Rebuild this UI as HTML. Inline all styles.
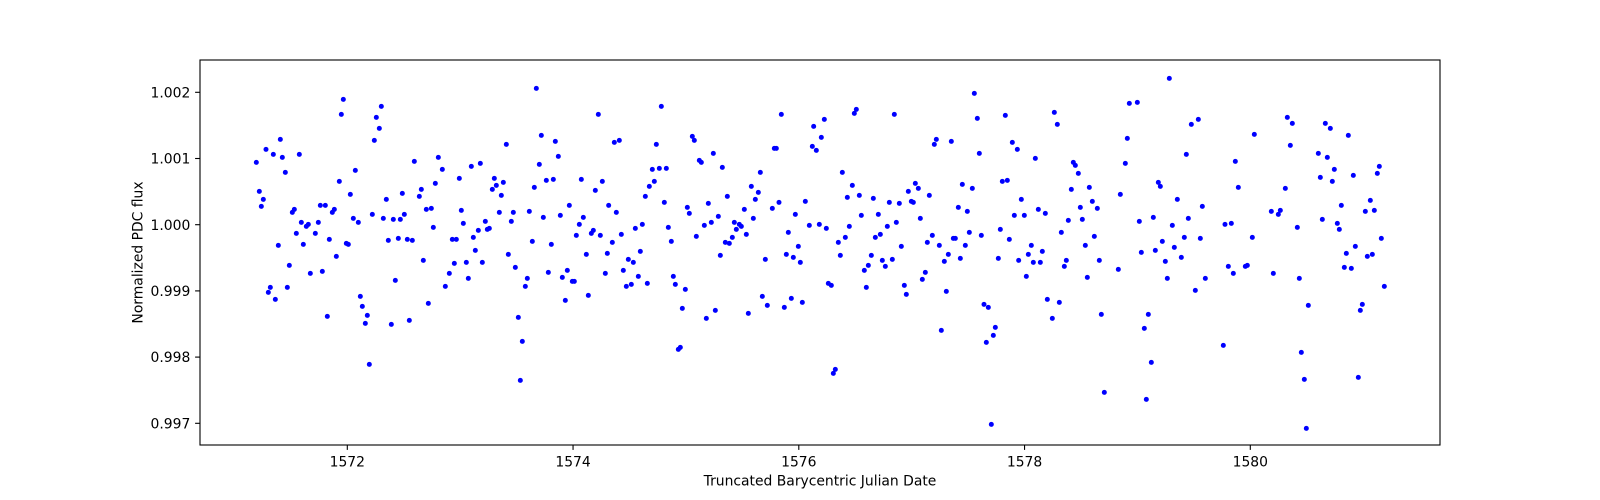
<!DOCTYPE html>
<html>
<head>
<meta charset="utf-8">
<style>
html,body{margin:0;padding:0;background:#fff;}
svg{display:block;}
text{font-family:"DejaVu Sans","Liberation Sans",sans-serif;font-size:13.9px;fill:#000;}
</style>
</head>
<body>
<svg width="1600" height="500" viewBox="0 0 1600 500" xmlns="http://www.w3.org/2000/svg">
<rect x="0" y="0" width="1600" height="500" fill="#fff"/>

<g fill="#0000ff">
<g transform="translate(195,55) scale(0.333333)">
<circle cx="445" cy="133" r="7.5"/><circle cx="439" cy="178" r="7.5"/><circle cx="559" cy="154" r="7.5"/><circle cx="544" cy="187" r="7.5"/><circle cx="553" cy="220" r="7.5"/><circle cx="538" cy="256" r="7.5"/><circle cx="256" cy="253" r="7.5"/><circle cx="213" cy="283" r="7.5"/><circle cx="235" cy="298" r="7.5"/><circle cx="262" cy="307" r="7.5"/><circle cx="313" cy="298" r="7.5"/><circle cx="184" cy="322" r="7.5"/><circle cx="271" cy="352" r="7.5"/><circle cx="481" cy="346" r="7.5"/><circle cx="433" cy="379" r="7.5"/><circle cx="193" cy="409" r="7.5"/><circle cx="205" cy="433" r="7.5"/><circle cx="199" cy="454" r="7.5"/><circle cx="466" cy="418" r="7.5"/><circle cx="574" cy="433" r="7.5"/><circle cx="622" cy="415" r="7.5"/><circle cx="292" cy="472" r="7.5"/><circle cx="298" cy="463" r="7.5"/><circle cx="376" cy="451" r="7.5"/><circle cx="391" cy="451" r="7.5"/><circle cx="412" cy="472" r="7.5"/><circle cx="418" cy="463" r="7.5"/><circle cx="475" cy="490" r="7.5"/><circle cx="490" cy="502" r="7.5"/><circle cx="532" cy="478" r="7.5"/><circle cx="565" cy="490" r="7.5"/><circle cx="595" cy="493" r="7.5"/><circle cx="616" cy="493" r="7.5"/><circle cx="628" cy="478" r="7.5"/><circle cx="319" cy="502" r="7.5"/><circle cx="334" cy="514" r="7.5"/><circle cx="340" cy="508" r="7.5"/><circle cx="370" cy="502" r="7.5"/><circle cx="304" cy="535" r="7.5"/><circle cx="361" cy="535" r="7.5"/><circle cx="403" cy="553" r="7.5"/><circle cx="250" cy="571" r="7.5"/><circle cx="325" cy="568" r="7.5"/><circle cx="454" cy="565" r="7.5"/><circle cx="460" cy="568" r="7.5"/><circle cx="580" cy="556" r="7.5"/><circle cx="610" cy="550" r="7.5"/><circle cx="424" cy="604" r="7.5"/><circle cx="283" cy="631" r="7.5"/><circle cx="346" cy="655" r="7.5"/><circle cx="382" cy="649" r="7.5"/><circle cx="601" cy="676" r="7.5"/><circle cx="226" cy="697" r="7.5"/><circle cx="220" cy="712" r="7.5"/><circle cx="277" cy="697" r="7.5"/><circle cx="241" cy="733" r="7.5"/><circle cx="496" cy="724" r="7.5"/><circle cx="502" cy="754" r="7.5"/><circle cx="517" cy="781" r="7.5"/><circle cx="511" cy="805" r="7.5"/><circle cx="589" cy="808" r="7.5"/><circle cx="397" cy="784" r="7.5"/><circle cx="523" cy="928" r="7.5"/>
</g>
<g transform="translate(400,55) scale(0.333333)">
<circle cx="409" cy="100" r="7.5"/><circle cx="595" cy="178" r="7.5"/><circle cx="424" cy="241" r="7.5"/><circle cx="466" cy="259" r="7.5"/><circle cx="319" cy="268" r="7.5"/><circle cx="475" cy="304" r="7.5"/><circle cx="43" cy="319" r="7.5"/><circle cx="115" cy="307" r="7.5"/><circle cx="127" cy="343" r="7.5"/><circle cx="214" cy="334" r="7.5"/><circle cx="241" cy="325" r="7.5"/><circle cx="418" cy="328" r="7.5"/><circle cx="178" cy="370" r="7.5"/><circle cx="283" cy="370" r="7.5"/><circle cx="289" cy="391" r="7.5"/><circle cx="310" cy="382" r="7.5"/><circle cx="277" cy="403" r="7.5"/><circle cx="304" cy="421" r="7.5"/><circle cx="106" cy="385" r="7.5"/><circle cx="64" cy="403" r="7.5"/><circle cx="58" cy="424" r="7.5"/><circle cx="403" cy="397" r="7.5"/><circle cx="439" cy="376" r="7.5"/><circle cx="460" cy="373" r="7.5"/><circle cx="544" cy="373" r="7.5"/><circle cx="607" cy="379" r="7.5"/><circle cx="586" cy="406" r="7.5"/><circle cx="79" cy="463" r="7.5"/><circle cx="94" cy="460" r="7.5"/><circle cx="184" cy="466" r="7.5"/><circle cx="190" cy="505" r="7.5"/><circle cx="100" cy="517" r="7.5"/><circle cx="298" cy="472" r="7.5"/><circle cx="340" cy="472" r="7.5"/><circle cx="334" cy="499" r="7.5"/><circle cx="388" cy="469" r="7.5"/><circle cx="430" cy="487" r="7.5"/><circle cx="481" cy="481" r="7.5"/><circle cx="508" cy="451" r="7.5"/><circle cx="550" cy="487" r="7.5"/><circle cx="538" cy="508" r="7.5"/><circle cx="626" cy="451" r="7.5"/><circle cx="256" cy="499" r="7.5"/><circle cx="235" cy="526" r="7.5"/><circle cx="262" cy="523" r="7.5"/><circle cx="268" cy="520" r="7.5"/><circle cx="220" cy="547" r="7.5"/><circle cx="157" cy="553" r="7.5"/><circle cx="169" cy="553" r="7.5"/><circle cx="22" cy="553" r="7.5"/><circle cx="37" cy="556" r="7.5"/><circle cx="397" cy="559" r="7.5"/><circle cx="454" cy="568" r="7.5"/><circle cx="529" cy="541" r="7.5"/><circle cx="574" cy="535" r="7.5"/><circle cx="580" cy="526" r="7.5"/><circle cx="601" cy="541" r="7.5"/><circle cx="226" cy="586" r="7.5"/><circle cx="325" cy="598" r="7.5"/><circle cx="559" cy="598" r="7.5"/><circle cx="622" cy="595" r="7.5"/><circle cx="70" cy="616" r="7.5"/><circle cx="163" cy="625" r="7.5"/><circle cx="199" cy="622" r="7.5"/><circle cx="247" cy="622" r="7.5"/><circle cx="148" cy="655" r="7.5"/><circle cx="136" cy="694" r="7.5"/><circle cx="205" cy="670" r="7.5"/><circle cx="346" cy="637" r="7.5"/><circle cx="382" cy="670" r="7.5"/><circle cx="376" cy="694" r="7.5"/><circle cx="445" cy="652" r="7.5"/><circle cx="502" cy="646" r="7.5"/><circle cx="487" cy="667" r="7.5"/><circle cx="517" cy="679" r="7.5"/><circle cx="523" cy="679" r="7.5"/><circle cx="616" cy="655" r="7.5"/><circle cx="565" cy="721" r="7.5"/><circle cx="496" cy="736" r="7.5"/><circle cx="85" cy="745" r="7.5"/><circle cx="28" cy="796" r="7.5"/><circle cx="355" cy="787" r="7.5"/><circle cx="367" cy="859" r="7.5"/><circle cx="361" cy="976" r="7.5"/>
</g>
<g transform="translate(605,55) scale(0.333333)">
<circle cx="169" cy="154" r="7.5"/><circle cx="529" cy="178" r="7.5"/><circle cx="626" cy="214" r="7.5"/><circle cx="28" cy="262" r="7.5"/><circle cx="43" cy="256" r="7.5"/><circle cx="154" cy="268" r="7.5"/><circle cx="262" cy="244" r="7.5"/><circle cx="268" cy="256" r="7.5"/><circle cx="508" cy="280" r="7.5"/><circle cx="514" cy="280" r="7.5"/><circle cx="622" cy="274" r="7.5"/><circle cx="325" cy="295" r="7.5"/><circle cx="283" cy="316" r="7.5"/><circle cx="289" cy="322" r="7.5"/><circle cx="142" cy="343" r="7.5"/><circle cx="163" cy="340" r="7.5"/><circle cx="184" cy="340" r="7.5"/><circle cx="352" cy="337" r="7.5"/><circle cx="466" cy="352" r="7.5"/><circle cx="148" cy="379" r="7.5"/><circle cx="133" cy="394" r="7.5"/><circle cx="121" cy="424" r="7.5"/><circle cx="439" cy="394" r="7.5"/><circle cx="460" cy="412" r="7.5"/><circle cx="451" cy="433" r="7.5"/><circle cx="367" cy="424" r="7.5"/><circle cx="178" cy="442" r="7.5"/><circle cx="310" cy="445" r="7.5"/><circle cx="247" cy="457" r="7.5"/><circle cx="253" cy="475" r="7.5"/><circle cx="34" cy="472" r="7.5"/><circle cx="522" cy="442" r="7.5"/><circle cx="601" cy="439" r="7.5"/><circle cx="502" cy="460" r="7.5"/><circle cx="418" cy="463" r="7.5"/><circle cx="445" cy="490" r="7.5"/><circle cx="571" cy="478" r="7.5"/><circle cx="340" cy="484" r="7.5"/><circle cx="319" cy="502" r="7.5"/><circle cx="298" cy="511" r="7.5"/><circle cx="388" cy="502" r="7.5"/><circle cx="403" cy="508" r="7.5"/><circle cx="409" cy="514" r="7.5"/><circle cx="394" cy="523" r="7.5"/><circle cx="613" cy="511" r="7.5"/><circle cx="112" cy="508" r="7.5"/><circle cx="91" cy="520" r="7.5"/><circle cx="190" cy="517" r="7.5"/><circle cx="49" cy="538" r="7.5"/><circle cx="274" cy="544" r="7.5"/><circle cx="424" cy="538" r="7.5"/><circle cx="382" cy="547" r="7.5"/><circle cx="550" cy="532" r="7.5"/><circle cx="199" cy="559" r="7.5"/><circle cx="22" cy="562" r="7.5"/><circle cx="361" cy="562" r="7.5"/><circle cx="373" cy="565" r="7.5"/><circle cx="580" cy="574" r="7.5"/><circle cx="106" cy="589" r="7.5"/><circle cx="544" cy="598" r="7.5"/><circle cx="565" cy="607" r="7.5"/><circle cx="586" cy="622" r="7.5"/><circle cx="346" cy="601" r="7.5"/><circle cx="481" cy="613" r="7.5"/><circle cx="70" cy="613" r="7.5"/><circle cx="85" cy="622" r="7.5"/><circle cx="55" cy="646" r="7.5"/><circle cx="100" cy="664" r="7.5"/><circle cx="205" cy="664" r="7.5"/><circle cx="64" cy="694" r="7.5"/><circle cx="79" cy="688" r="7.5"/><circle cx="127" cy="685" r="7.5"/><circle cx="211" cy="688" r="7.5"/><circle cx="241" cy="703" r="7.5"/><circle cx="472" cy="724" r="7.5"/><circle cx="487" cy="751" r="7.5"/><circle cx="538" cy="757" r="7.5"/><circle cx="559" cy="730" r="7.5"/><circle cx="592" cy="742" r="7.5"/><circle cx="232" cy="760" r="7.5"/><circle cx="331" cy="766" r="7.5"/><circle cx="304" cy="790" r="7.5"/><circle cx="430" cy="775" r="7.5"/><circle cx="220" cy="883" r="7.5"/><circle cx="226" cy="877" r="7.5"/>
</g>
<g transform="translate(810,55) scale(0.333333)">
<circle cx="493" cy="115" r="7.5"/><circle cx="502" cy="190" r="7.5"/><circle cx="586" cy="181" r="7.5"/><circle cx="139" cy="163" r="7.5"/><circle cx="133" cy="175" r="7.5"/><circle cx="253" cy="178" r="7.5"/><circle cx="43" cy="193" r="7.5"/><circle cx="34" cy="247" r="7.5"/><circle cx="19" cy="286" r="7.5"/><circle cx="373" cy="268" r="7.5"/><circle cx="379" cy="253" r="7.5"/><circle cx="424" cy="259" r="7.5"/><circle cx="508" cy="295" r="7.5"/><circle cx="607" cy="262" r="7.5"/><circle cx="622" cy="283" r="7.5"/><circle cx="97" cy="352" r="7.5"/><circle cx="127" cy="391" r="7.5"/><circle cx="112" cy="427" r="7.5"/><circle cx="148" cy="421" r="7.5"/><circle cx="190" cy="430" r="7.5"/><circle cx="238" cy="442" r="7.5"/><circle cx="268" cy="445" r="7.5"/><circle cx="295" cy="409" r="7.5"/><circle cx="316" cy="385" r="7.5"/><circle cx="325" cy="400" r="7.5"/><circle cx="304" cy="439" r="7.5"/><circle cx="310" cy="442" r="7.5"/><circle cx="358" cy="421" r="7.5"/><circle cx="457" cy="388" r="7.5"/><circle cx="487" cy="400" r="7.5"/><circle cx="577" cy="379" r="7.5"/><circle cx="592" cy="376" r="7.5"/><circle cx="445" cy="457" r="7.5"/><circle cx="472" cy="469" r="7.5"/><circle cx="613" cy="481" r="7.5"/><circle cx="154" cy="481" r="7.5"/><circle cx="205" cy="478" r="7.5"/><circle cx="331" cy="490" r="7.5"/><circle cx="28" cy="508" r="7.5"/><circle cx="49" cy="520" r="7.5"/><circle cx="118" cy="514" r="7.5"/><circle cx="232" cy="514" r="7.5"/><circle cx="259" cy="502" r="7.5"/><circle cx="571" cy="523" r="7.5"/><circle cx="106" cy="547" r="7.5"/><circle cx="85" cy="562" r="7.5"/><circle cx="196" cy="547" r="7.5"/><circle cx="211" cy="538" r="7.5"/><circle cx="274" cy="574" r="7.5"/><circle cx="352" cy="562" r="7.5"/><circle cx="367" cy="541" r="7.5"/><circle cx="388" cy="571" r="7.5"/><circle cx="430" cy="550" r="7.5"/><circle cx="436" cy="550" r="7.5"/><circle cx="478" cy="532" r="7.5"/><circle cx="514" cy="541" r="7.5"/><circle cx="598" cy="553" r="7.5"/><circle cx="466" cy="571" r="7.5"/><circle cx="91" cy="601" r="7.5"/><circle cx="184" cy="601" r="7.5"/><circle cx="217" cy="616" r="7.5"/><circle cx="226" cy="634" r="7.5"/><circle cx="247" cy="613" r="7.5"/><circle cx="175" cy="631" r="7.5"/><circle cx="163" cy="646" r="7.5"/><circle cx="415" cy="598" r="7.5"/><circle cx="403" cy="619" r="7.5"/><circle cx="451" cy="610" r="7.5"/><circle cx="565" cy="610" r="7.5"/><circle cx="626" cy="616" r="7.5"/><circle cx="346" cy="652" r="7.5"/><circle cx="337" cy="673" r="7.5"/><circle cx="55" cy="685" r="7.5"/><circle cx="64" cy="691" r="7.5"/><circle cx="169" cy="697" r="7.5"/><circle cx="283" cy="691" r="7.5"/><circle cx="289" cy="718" r="7.5"/><circle cx="409" cy="709" r="7.5"/><circle cx="522" cy="748" r="7.5"/><circle cx="535" cy="757" r="7.5"/><circle cx="556" cy="817" r="7.5"/><circle cx="550" cy="841" r="7.5"/><circle cx="529" cy="862" r="7.5"/><circle cx="394" cy="826" r="7.5"/><circle cx="76" cy="943" r="7.5"/><circle cx="70" cy="955" r="7.5"/><circle cx="544" cy="1108" r="7.5"/>
</g>
<g transform="translate(1015,55) scale(0.333333)">
<circle cx="463" cy="70" r="7.5"/><circle cx="343" cy="145" r="7.5"/><circle cx="367" cy="142" r="7.5"/><circle cx="118" cy="172" r="7.5"/><circle cx="127" cy="208" r="7.5"/><circle cx="529" cy="208" r="7.5"/><circle cx="550" cy="193" r="7.5"/><circle cx="337" cy="250" r="7.5"/><circle cx="61" cy="310" r="7.5"/><circle cx="514" cy="298" r="7.5"/><circle cx="175" cy="322" r="7.5"/><circle cx="181" cy="331" r="7.5"/><circle cx="331" cy="325" r="7.5"/><circle cx="190" cy="355" r="7.5"/><circle cx="430" cy="382" r="7.5"/><circle cx="436" cy="394" r="7.5"/><circle cx="169" cy="403" r="7.5"/><circle cx="223" cy="397" r="7.5"/><circle cx="316" cy="418" r="7.5"/><circle cx="19" cy="433" r="7.5"/><circle cx="487" cy="433" r="7.5"/><circle cx="232" cy="439" r="7.5"/><circle cx="196" cy="457" r="7.5"/><circle cx="247" cy="460" r="7.5"/><circle cx="70" cy="463" r="7.5"/><circle cx="91" cy="475" r="7.5"/><circle cx="28" cy="481" r="7.5"/><circle cx="562" cy="454" r="7.5"/><circle cx="160" cy="496" r="7.5"/><circle cx="202" cy="493" r="7.5"/><circle cx="373" cy="499" r="7.5"/><circle cx="415" cy="487" r="7.5"/><circle cx="472" cy="511" r="7.5"/><circle cx="520" cy="490" r="7.5"/><circle cx="630" cy="508" r="7.5"/><circle cx="139" cy="532" r="7.5"/><circle cx="238" cy="544" r="7.5"/><circle cx="442" cy="559" r="7.5"/><circle cx="508" cy="547" r="7.5"/><circle cx="556" cy="550" r="7.5"/><circle cx="49" cy="571" r="7.5"/><circle cx="211" cy="571" r="7.5"/><circle cx="478" cy="577" r="7.5"/><circle cx="40" cy="598" r="7.5"/><circle cx="82" cy="589" r="7.5"/><circle cx="421" cy="586" r="7.5"/><circle cx="379" cy="592" r="7.5"/><circle cx="55" cy="622" r="7.5"/><circle cx="76" cy="622" r="7.5"/><circle cx="154" cy="616" r="7.5"/><circle cx="148" cy="634" r="7.5"/><circle cx="253" cy="616" r="7.5"/><circle cx="451" cy="619" r="7.5"/><circle cx="499" cy="607" r="7.5"/><circle cx="34" cy="664" r="7.5"/><circle cx="217" cy="667" r="7.5"/><circle cx="310" cy="643" r="7.5"/><circle cx="457" cy="670" r="7.5"/><circle cx="571" cy="670" r="7.5"/><circle cx="541" cy="706" r="7.5"/><circle cx="97" cy="733" r="7.5"/><circle cx="133" cy="742" r="7.5"/><circle cx="112" cy="790" r="7.5"/><circle cx="259" cy="778" r="7.5"/><circle cx="400" cy="778" r="7.5"/><circle cx="388" cy="820" r="7.5"/><circle cx="625" cy="871" r="7.5"/><circle cx="409" cy="922" r="7.5"/><circle cx="268" cy="1012" r="7.5"/><circle cx="394" cy="1033" r="7.5"/>
</g>
<g transform="translate(1220,55) scale(0.333333)">
<circle cx="202" cy="187" r="7.5"/><circle cx="217" cy="205" r="7.5"/><circle cx="316" cy="205" r="7.5"/><circle cx="331" cy="220" r="7.5"/><circle cx="103" cy="238" r="7.5"/><circle cx="385" cy="241" r="7.5"/><circle cx="211" cy="271" r="7.5"/><circle cx="295" cy="295" r="7.5"/><circle cx="322" cy="307" r="7.5"/><circle cx="46" cy="319" r="7.5"/><circle cx="478" cy="334" r="7.5"/><circle cx="472" cy="355" r="7.5"/><circle cx="343" cy="343" r="7.5"/><circle cx="301" cy="367" r="7.5"/><circle cx="337" cy="379" r="7.5"/><circle cx="400" cy="361" r="7.5"/><circle cx="55" cy="397" r="7.5"/><circle cx="196" cy="400" r="7.5"/><circle cx="451" cy="436" r="7.5"/><circle cx="364" cy="451" r="7.5"/><circle cx="436" cy="469" r="7.5"/><circle cx="463" cy="466" r="7.5"/><circle cx="154" cy="469" r="7.5"/><circle cx="181" cy="466" r="7.5"/><circle cx="175" cy="478" r="7.5"/><circle cx="34" cy="505" r="7.5"/><circle cx="307" cy="493" r="7.5"/><circle cx="352" cy="505" r="7.5"/><circle cx="358" cy="523" r="7.5"/><circle cx="232" cy="517" r="7.5"/><circle cx="484" cy="550" r="7.5"/><circle cx="97" cy="547" r="7.5"/><circle cx="406" cy="574" r="7.5"/><circle cx="379" cy="595" r="7.5"/><circle cx="442" cy="604" r="7.5"/><circle cx="457" cy="598" r="7.5"/><circle cx="25" cy="634" r="7.5"/><circle cx="76" cy="634" r="7.5"/><circle cx="82" cy="631" r="7.5"/><circle cx="40" cy="655" r="7.5"/><circle cx="160" cy="655" r="7.5"/><circle cx="373" cy="637" r="7.5"/><circle cx="394" cy="640" r="7.5"/><circle cx="238" cy="670" r="7.5"/><circle cx="493" cy="694" r="7.5"/><circle cx="265" cy="751" r="7.5"/><circle cx="427" cy="748" r="7.5"/><circle cx="421" cy="766" r="7.5"/><circle cx="244" cy="892" r="7.5"/><circle cx="253" cy="973" r="7.5"/><circle cx="415" cy="967" r="7.5"/><circle cx="259" cy="1120" r="7.5"/>
</g>
</g>

<!-- axes frame -->
<rect x="200" y="60" width="1240" height="385" fill="none" stroke="#000" stroke-width="1.1"/>

<!-- x ticks -->
<g stroke="#000" stroke-width="1.1">
<line x1="347.3" y1="445" x2="347.3" y2="449.9"/>
<line x1="573.05" y1="445" x2="573.05" y2="449.9"/>
<line x1="798.8" y1="445" x2="798.8" y2="449.9"/>
<line x1="1024.55" y1="445" x2="1024.55" y2="449.9"/>
<line x1="1250.3" y1="445" x2="1250.3" y2="449.9"/>
</g>
<g text-anchor="middle">
<text x="347.3" y="466.5">1572</text>
<text x="573.05" y="466.5">1574</text>
<text x="798.8" y="466.5">1576</text>
<text x="1024.55" y="466.5">1578</text>
<text x="1250.3" y="466.5">1580</text>
</g>

<!-- y ticks -->
<g stroke="#000" stroke-width="1.1">
<line x1="195.1" y1="92.3" x2="200" y2="92.3"/>
<line x1="195.1" y1="158.5" x2="200" y2="158.5"/>
<line x1="195.1" y1="224.7" x2="200" y2="224.7"/>
<line x1="195.1" y1="290.9" x2="200" y2="290.9"/>
<line x1="195.1" y1="357.1" x2="200" y2="357.1"/>
<line x1="195.1" y1="423.3" x2="200" y2="423.3"/>
</g>
<g text-anchor="end">
<text x="190.3" y="97.4">1.002</text>
<text x="190.3" y="163.6">1.001</text>
<text x="190.3" y="229.8">1.000</text>
<text x="190.3" y="296.0">0.999</text>
<text x="190.3" y="362.2">0.998</text>
<text x="190.3" y="428.4">0.997</text>
</g>

<!-- axis labels -->
<text x="820" y="485.7" text-anchor="middle">Truncated Barycentric Julian Date</text>
<text transform="translate(142.7,252.5) rotate(-90)" text-anchor="middle">Normalized PDC flux</text>
</svg>
</body>
</html>
